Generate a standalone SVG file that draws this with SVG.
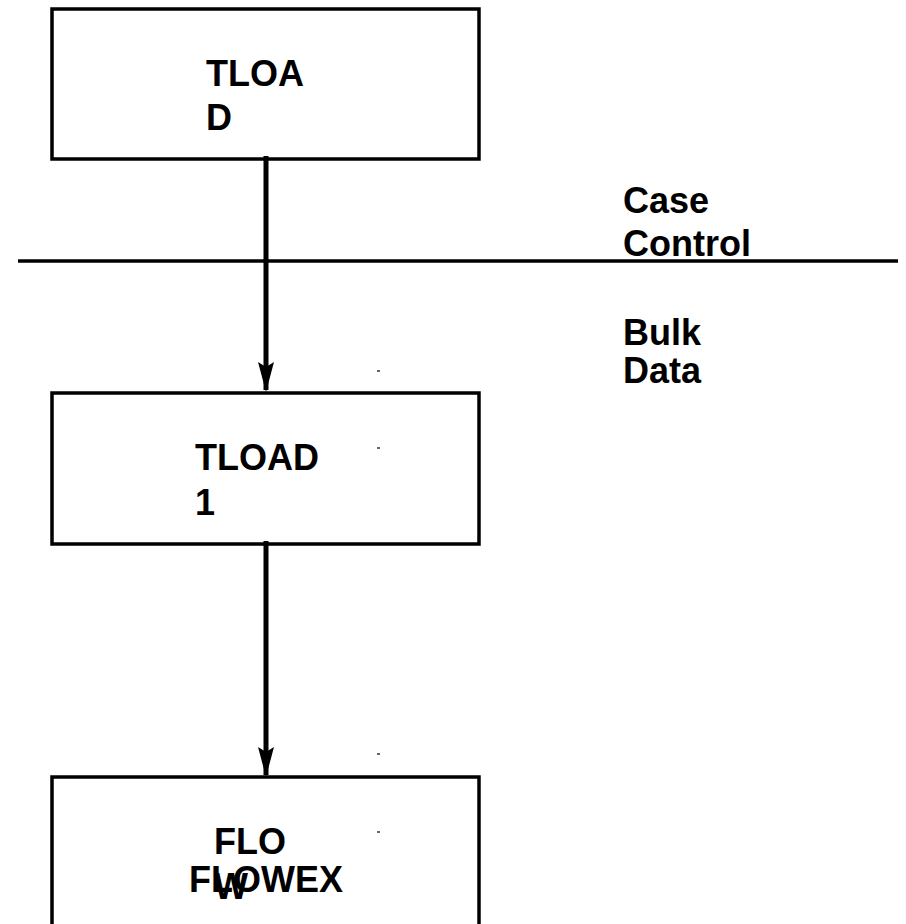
<svg xmlns="http://www.w3.org/2000/svg" width="906" height="924" viewBox="0 0 906 924">
<defs>
<style>
.box{fill:#fff;stroke:#000;stroke-width:3.5}
.t{font-family:"Liberation Sans",Arial,sans-serif;font-weight:bold;font-size:36px;fill:#000}
.conn{stroke:#000;stroke-width:5;fill:none}
.tick{stroke:#000;stroke-width:1.2}
</style>
<marker id="ah" markerUnits="userSpaceOnUse" markerWidth="30" markerHeight="18" refX="28" refY="9" orient="auto" viewBox="0 0 30 18">
<path d="M0,1 L5,9 L0,17 L30,9 Z" fill="#000"/>
</marker>
</defs>
<rect width="906" height="924" fill="#fff"/>
<line x1="18" y1="261" x2="898" y2="261" stroke="#000" stroke-width="3.5"/>
<g id="n_tload">
<rect class="box" x="52" y="9" width="427" height="150"/>
<text class="t" x="206" y="86">TLOA</text>
<text class="t" x="206" y="130">D</text>
</g>
<g id="n_tload1">
<rect class="box" x="52" y="393" width="427" height="151"/>
<text class="t" x="195" y="470">TLOAD</text>
<text class="t" x="195" y="515">1</text>
</g>
<g id="n_flow">
<rect class="box" x="52" y="777" width="427" height="160"/>
<text class="t" x="214" y="854">FLO</text>
<text class="t" x="214" y="899">W</text>
<text class="t" x="189" y="892">FLOWEX</text>
</g>
<g id="labels">
<text class="t" x="623" y="213">Case</text>
<text class="t" x="623" y="256">Control</text>
<text class="t" x="623" y="345">Bulk</text>
<text class="t" x="623" y="383">Data</text>
</g>
<g id="connectors">
<line class="conn" x1="266" y1="156" x2="266" y2="390" marker-end="url(#ah)"/>
<line class="conn" x1="266" y1="541" x2="266" y2="775" marker-end="url(#ah)"/>
</g>
<g id="ticks">
<line class="tick" x1="377" y1="371" x2="380" y2="371"/>
<line class="tick" x1="377" y1="448" x2="380" y2="448"/>
<line class="tick" x1="377" y1="754" x2="380" y2="754"/>
<line class="tick" x1="377" y1="832" x2="380" y2="832"/>
</g>
</svg>
